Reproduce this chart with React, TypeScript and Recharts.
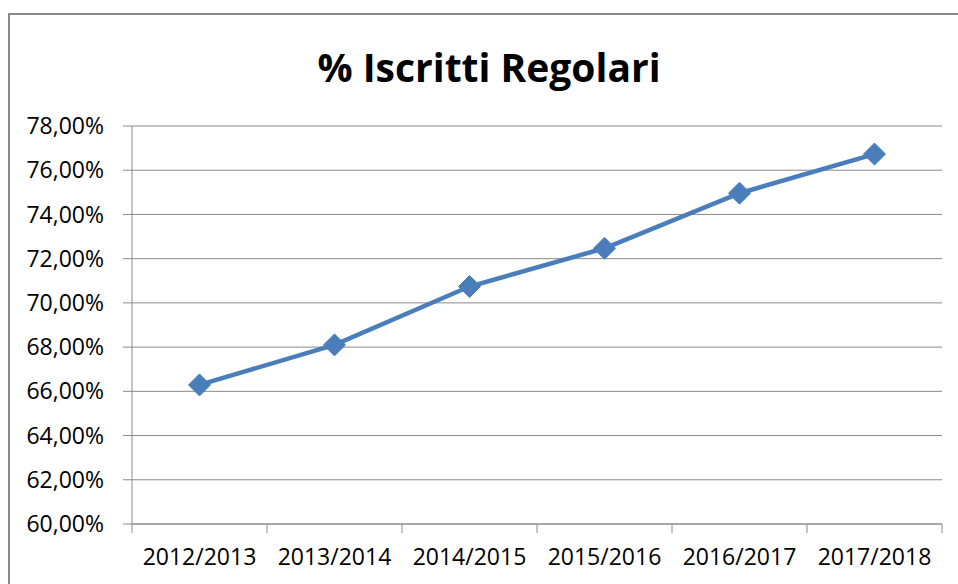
import { LineChart, Line, XAxis, YAxis, CartesianGrid } from 'recharts';

const categories = ['2012/2013', '2013/2014', '2014/2015', '2015/2016', '2016/2017', '2017/2018'];
const iscrittiRegolari = [66.29, 68.1, 70.74, 72.47, 74.96, 76.73];
const yTicks = [60, 62, 64, 66, 68, 70, 72, 74, 76, 78];
const boundaryTicks = [0, 1, 2, 3, 4, 5, 6];

const data = categories.map((anno, i) => ({ anno, idx: i, valore: iscrittiRegolari[i] }));

const GRAY = '#8a8a8a';
const BLUE = '#4a7ebb';
const FONT = "'Open Sans', 'Liberation Sans', sans-serif";

const formatPct = (v: number) => `${v.toFixed(2).replace('.', ',')}%`;

// diamond marker like the Excel one
const Diamond = (props: any) => {
    const { cx, cy } = props;
    if (cx == null || cy == null) return null;
    const r = 11;
    return (
        <polygon
            points={`${cx},${cy - r} ${cx + r},${cy} ${cx},${cy + r} ${cx - r},${cy}`}
            fill={BLUE}
            stroke={BLUE}
            strokeWidth={1}
        />
    );
};

// tick marks only, no label (tick={false} would drop the tick lines too)
const NoLabel = () => <g />;

export default function App() {
    return (
        <div style={{ position: 'fixed', left: 0, top: 0, width: 958, height: 584, background: '#fff', overflow: 'hidden' }}>
            <div
                style={{
                    position: 'absolute',
                    left: 8,
                    top: 13,
                    width: 1000,
                    height: 700,
                    border: `2px solid ${GRAY}`,
                    boxSizing: 'border-box',
                }}
            />
            <div
                style={{
                    position: 'absolute',
                    left: 0,
                    width: 978,
                    top: 47,
                    textAlign: 'center',
                    fontFamily: FONT,
                    fontWeight: 700,
                    fontSize: 39,
                    lineHeight: 1,
                    color: '#000',
                }}
            >
                % Iscritti Regolari
            </div>
            <div style={{ position: 'absolute', left: 0, top: 0 }}>
                <LineChart width={958} height={584} data={data} margin={{ top: 126, right: 16, bottom: 0, left: 0 }}>
                    <CartesianGrid xAxisId="cat" vertical={false} stroke={GRAY} strokeWidth={1} />
                    {/* tick marks between categories, as in Excel */}
                    <XAxis
                        xAxisId="b"
                        dataKey="idx"
                        type="number"
                        domain={[0, categories.length]}
                        ticks={boundaryTicks}
                        allowDataOverflow
                        interval={0}
                        height={1}
                        tick={<NoLabel />}
                        axisLine={{ stroke: GRAY }}
                        tickSize={9}
                        tickLine={{ stroke: GRAY }}
                    />
                    <XAxis
                        xAxisId="cat"
                        dataKey="anno"
                        scale="band"
                        height={59}
                        tickLine={false}
                        tickSize={9}
                        tickMargin={15}
                        axisLine={false}
                        tick={{ fill: '#000', fontSize: 23, fontFamily: FONT }}
                        interval={0}
                    />
                    <YAxis
                        width={132}
                        domain={[60, 78]}
                        ticks={yTicks}
                        tickFormatter={formatPct}
                        tickSize={9}
                        tickMargin={19}
                        axisLine={{ stroke: GRAY }}
                        tickLine={{ stroke: GRAY }}
                        tick={{ fill: '#000', fontSize: 23, fontFamily: FONT }}
                        interval={0}
                    />
                    <Line
                        xAxisId="cat"
                        dataKey="valore"
                        stroke={BLUE}
                        strokeWidth={4.5}
                        dot={<Diamond />}
                        activeDot={false}
                        isAnimationActive={false}
                    />
                </LineChart>
            </div>
        </div>
    );
}
